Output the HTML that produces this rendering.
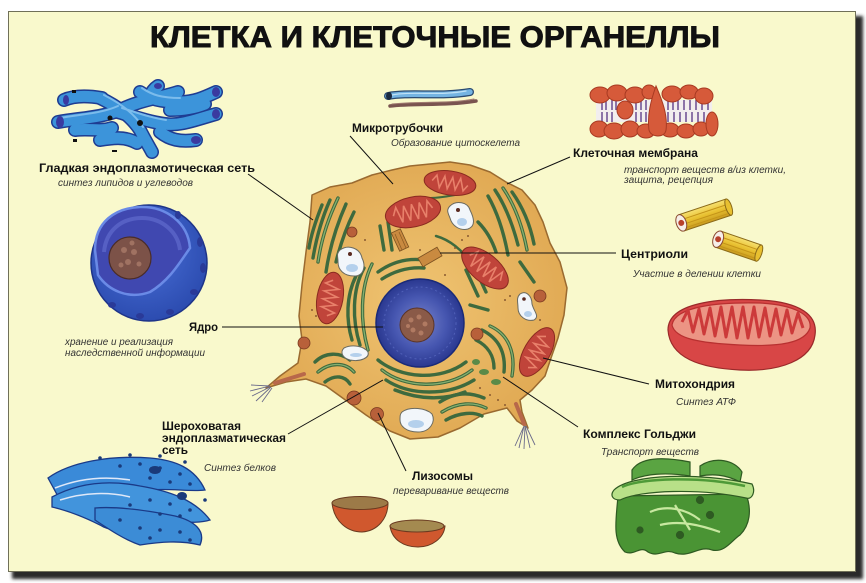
<!DOCTYPE html>
<html><head><meta charset="utf-8">
<style>
html,body{margin:0;padding:0;background:#fff;}
svg{display:block;}
.b{font-family:"Liberation Sans",sans-serif;font-weight:bold;font-size:12px;fill:#111;}
.i{font-family:"Liberation Sans",sans-serif;font-style:italic;font-size:10px;fill:#333;}
</style></head>
<body>
<svg width="866" height="583" viewBox="0 0 866 583" xmlns="http://www.w3.org/2000/svg">
<defs>
<filter id="sh" x="-5%" y="-5%" width="110%" height="110%"><feGaussianBlur stdDeviation="1.6"/></filter>
<radialGradient id="cellg" cx="50%" cy="50%" r="55%"><stop offset="0" stop-color="#efc472"/><stop offset="1" stop-color="#e0a852"/></radialGradient>
<radialGradient id="nucg" cx="50%" cy="50%" r="50%"><stop offset="0" stop-color="#7884cc"/><stop offset="0.6" stop-color="#4656b0"/><stop offset="1" stop-color="#2a3890"/></radialGradient>
<radialGradient id="bign" cx="45%" cy="40%" r="60%"><stop offset="0" stop-color="#4a70d8"/><stop offset="1" stop-color="#2c4cb0"/></radialGradient>
<linearGradient id="yel" x1="0" y1="0" x2="0" y2="1"><stop offset="0" stop-color="#f6e070"/><stop offset="0.5" stop-color="#e8c030"/><stop offset="1" stop-color="#c89a20"/></linearGradient>
</defs>

<!-- frame -->
<rect x="12" y="16" width="851" height="563" fill="#2a2a2a" filter="url(#sh)"/>
<rect x="8.5" y="11.5" width="847" height="560" fill="#f9f9cc" stroke="#707058" stroke-width="1"/>

<!-- title -->
<text x="150" y="47" textLength="570" lengthAdjust="spacingAndGlyphs" font-family="Liberation Sans, sans-serif" font-weight="bold" font-size="30" fill="#111" stroke="#111" stroke-width="0.9">КЛЕТКА И КЛЕТОЧНЫЕ ОРГАНЕЛЛЫ</text>

<!-- smooth ER -->
<g fill="none" stroke-linecap="round">
<g stroke="#1e3c92" stroke-width="14">
<path d="M58,122 C80,118 100,118 120,110 C140,100 160,98 178,92"/>
<path d="M118,112 C135,117 150,122 165,124 C180,126 195,120 216,114"/>
<path d="M100,98 C115,105 130,115 140,130 C145,140 150,148 152,152"/>
<path d="M140,92 C150,99 160,102 180,102 C195,102 205,97 216,92"/>
<path d="M64,100 C75,95 90,96 102,98"/>
<path d="M100,140 C112,138 125,136 137,143"/>
<path d="M160,132 C170,140 180,142 196,140"/>
<path d="M150,96 C152,91 155,88 158,86"/>
<path d="M75,130 C90,128 100,132 112,128"/>
<path d="M170,110 C185,110 195,108 205,104"/>
</g>
<g stroke="#3c94da" stroke-width="11">
<path d="M58,122 C80,118 100,118 120,110 C140,100 160,98 178,92"/>
<path d="M118,112 C135,117 150,122 165,124 C180,126 195,120 216,114"/>
<path d="M100,98 C115,105 130,115 140,130 C145,140 150,148 152,152"/>
<path d="M140,92 C150,99 160,102 180,102 C195,102 205,97 216,92"/>
<path d="M64,100 C75,95 90,96 102,98"/>
<path d="M100,140 C112,138 125,136 137,143"/>
<path d="M160,132 C170,140 180,142 196,140"/>
<path d="M150,96 C152,91 155,88 158,86"/>
<path d="M75,130 C90,128 100,132 112,128"/>
<path d="M170,110 C185,110 195,108 205,104"/>
</g>
<g stroke="#7cbcec" stroke-width="2">
<path d="M60,118 C80,114 100,114 118,106"/>
<path d="M142,88 C152,95 162,98 180,98"/>
<path d="M104,95 C118,102 133,112 143,127"/>
<path d="M122,108 C138,113 152,118 166,120"/>
</g>
</g>
<g fill="#3a3aa0"><ellipse cx="60" cy="122" rx="4" ry="6"/><ellipse cx="216" cy="92" rx="4" ry="5"/><ellipse cx="216" cy="114" rx="4" ry="5"/><ellipse cx="196" cy="140" rx="5" ry="4"/><ellipse cx="158" cy="86" rx="4" ry="3"/><ellipse cx="66" cy="100" rx="3" ry="5"/></g>
<g fill="#111"><rect x="72" y="90" width="4" height="3"/><rect x="73" y="139" width="4" height="3"/><rect x="112" y="150" width="5" height="2"/><circle cx="140" cy="123" r="3"/><circle cx="110" cy="118" r="2.5"/></g>

<!-- big nucleus left -->
<g>
<circle cx="149" cy="263" r="58" fill="url(#bign)" stroke="#1e3488" stroke-width="1.5"/>
<path d="M95,250 C95,222 115,208 140,207 C165,206 188,222 190,248 C180,262 170,280 150,292 C128,300 108,290 98,275 Z" fill="#4048b0" stroke="#6a8ae6" stroke-width="2.5"/>
<path d="M104,252 C106,230 122,218 142,218 C162,218 178,232 180,250" fill="none" stroke="#5660c4" stroke-width="4"/>
<circle cx="130" cy="258" r="21" fill="#7c5248" stroke="#4a2c28" stroke-width="1.2"/>
<g fill="#a07262"><circle cx="124" cy="250" r="3"/><circle cx="134" cy="252" r="3"/><circle cx="128" cy="262" r="3"/><circle cx="139" cy="264" r="2.5"/><circle cx="121" cy="265" r="2.5"/><circle cx="132" cy="243" r="2.5"/></g>
<g fill="#2a3a98"><ellipse cx="200" cy="242" rx="3" ry="5"/><ellipse cx="203" cy="268" rx="3" ry="5"/><ellipse cx="194" cy="292" rx="4" ry="3"/><ellipse cx="170" cy="312" rx="4" ry="3"/><ellipse cx="140" cy="316" rx="4" ry="3"/><ellipse cx="112" cy="305" rx="4" ry="3"/><ellipse cx="178" cy="215" rx="3" ry="4"/></g>
</g>

<!-- rough ER bottom-left -->
<g stroke="#1a3a88" stroke-width="1.3">
<path d="M48,478 C70,462 110,455 150,458 C175,460 195,468 205,490 C190,492 170,488 150,490 C120,492 90,495 60,500 Z" fill="#3a8ad8"/>
<path d="M52,497 C80,482 110,480 140,486 C170,491 195,500 210,520 C195,525 170,520 150,522 C130,526 115,535 100,525 C80,515 65,510 52,507 Z" fill="#4294dc"/>
<path d="M95,508 C120,506 150,511 175,516 C195,521 206,531 200,545 C180,540 160,542 140,545 C125,540 110,530 95,520 Z" fill="#3c8cd6"/>
<path d="M55,488 C80,478 105,476 130,480" fill="none" stroke="#dfe8f8" stroke-width="1.5"/>
<path d="M60,500 C85,492 110,492 130,497" fill="none" stroke="#dfe8f8" stroke-width="1.5"/>
</g>
<g fill="#1a3a7a">
<circle cx="120" cy="466" r="1.8"/><circle cx="140" cy="464" r="1.8"/><circle cx="160" cy="468" r="1.8"/><circle cx="180" cy="474" r="1.8"/><circle cx="150" cy="478" r="1.8"/><circle cx="170" cy="482" r="1.8"/><circle cx="190" cy="484" r="1.8"/>
<circle cx="150" cy="500" r="1.8"/><circle cx="170" cy="504" r="1.8"/><circle cx="190" cy="510" r="1.8"/><circle cx="130" cy="505" r="1.8"/><circle cx="160" cy="514" r="1.8"/><circle cx="180" cy="516" r="1.8"/>
<circle cx="120" cy="520" r="1.8"/><circle cx="140" cy="528" r="1.8"/><circle cx="160" cy="530" r="1.8"/><circle cx="180" cy="532" r="1.8"/><circle cx="190" cy="540" r="1.8"/><circle cx="150" cy="538" r="1.8"/>
<circle cx="100" cy="458" r="1.8"/><circle cx="130" cy="455" r="1.8"/><circle cx="160" cy="456" r="1.8"/><circle cx="185" cy="462" r="1.8"/><circle cx="205" cy="500" r="1.8"/>
<ellipse cx="155" cy="470" rx="6" ry="4"/><ellipse cx="182" cy="496" rx="5" ry="4"/>
</g>

<!-- microtubule -->
<g fill="none" stroke-linecap="round">
<path d="M388,96 C410,92 440,97 470,92" stroke="#2a4a70" stroke-width="8"/>
<path d="M388,96 C410,92 440,97 470,92" stroke="#74b4e2" stroke-width="5.5"/>
<path d="M392,95 C412,91 440,96 466,91" stroke="#c0e2f6" stroke-width="1.2"/>
<path d="M390,106 C415,103 445,106 476,101" stroke="#7a5450" stroke-width="3.5"/>
<path d="M392,104 C418,101 448,104 474,99" stroke="#a07a70" stroke-width="1"/>
</g>
<ellipse cx="389" cy="96" rx="3" ry="4" fill="#1a2a40"/>

<!-- membrane top right -->
<g>
<rect x="596" y="100" width="116" height="22" fill="#f2eeee"/>
<g stroke="#6a4c90" stroke-width="1.5">
<path d="M602,100 v10 M606,100 v10 M612,100 v10 M616,100 v10 M636,100 v10 M641,100 v10 M646,100 v10 M668,100 v10 M673,100 v10 M678,100 v10 M684,100 v10 M690,100 v10 M696,100 v10 M702,100 v10 M708,100 v10"/>
<path d="M602,112 v10 M607,112 v10 M612,112 v10 M636,112 v10 M641,112 v10 M646,112 v10 M668,112 v10 M674,112 v10 M680,112 v10 M686,112 v10 M692,112 v10 M698,112 v10 M704,112 v10"/>
</g>
<g fill="#d65a3a" stroke="#a83a22" stroke-width="1">
<ellipse cx="600" cy="95" rx="10" ry="8"/><ellipse cx="617" cy="93" rx="10" ry="8"/><ellipse cx="635" cy="95" rx="10" ry="8"/><ellipse cx="649" cy="92" rx="7" ry="7"/><ellipse cx="672" cy="94" rx="10" ry="8"/><ellipse cx="689" cy="92" rx="9" ry="7"/><ellipse cx="704" cy="96" rx="9" ry="8"/>
<ellipse cx="599" cy="129" rx="9" ry="8"/><ellipse cx="614" cy="131" rx="10" ry="8"/><ellipse cx="630" cy="129" rx="9" ry="8"/><ellipse cx="646" cy="131" rx="9" ry="7"/><ellipse cx="670" cy="130" rx="9" ry="7"/><ellipse cx="686" cy="131" rx="9" ry="7"/><ellipse cx="701" cy="129" rx="8" ry="7"/><ellipse cx="712" cy="124" rx="6" ry="12"/>
<ellipse cx="625" cy="110" rx="8" ry="9"/>
<path d="M656,86 C651,100 647,115 649,130 C651,138 665,138 666,130 C668,115 662,100 656,86 Z"/>
</g>
</g>

<!-- centrioles right -->
<g transform="translate(705,215) rotate(-18.4)">
<rect x="-25" y="-8.5" width="50" height="17" fill="url(#yel)" stroke="#8a6a18" stroke-width="1"/>
<path d="M-25,-3 H25 M-25,2 H25 M-25,6 H25" stroke="#c49418" stroke-width="1"/>
<ellipse cx="-25" cy="0" rx="5" ry="8.5" fill="#f6eee8" stroke="#8a4a30"/>
<circle cx="-25" cy="0" r="3" fill="#b8402a"/>
<ellipse cx="25" cy="0" rx="3" ry="8.5" fill="#e8c030" stroke="#8a6a18"/>
</g>
<g transform="translate(738,246) rotate(18.9)">
<rect x="-21" y="-8.5" width="43" height="17" fill="url(#yel)" stroke="#8a6a18" stroke-width="1"/>
<path d="M-21,-3 H22 M-21,2 H22 M-21,6 H22" stroke="#c49418" stroke-width="1"/>
<ellipse cx="-21" cy="0" rx="5" ry="8.5" fill="#f6eee8" stroke="#8a4a30"/>
<circle cx="-21" cy="0" r="3" fill="#b8402a"/>
<ellipse cx="22" cy="0" rx="3" ry="8.5" fill="#e8c030" stroke="#8a6a18"/>
</g>

<!-- big mitochondrion right -->
<g>
<path d="M668,330 C668,302 720,298 760,300 C800,302 818,315 815,335 C812,360 780,372 740,370 C700,368 670,358 668,330 Z" fill="#d84646" stroke="#9a2a2a" stroke-width="1.2"/>
<path d="M672,325 C675,306 720,302 760,303 C795,305 812,315 810,328 C805,343 780,347 740,345 C700,343 675,339 672,325 Z" fill="#ec9484" stroke="#b83030" stroke-width="1.2"/>
<path d="M682,322 L688,310 L693,332 L699,309 L704,334 L710,308 L715,336 L721,307 L726,337 L732,307 L737,338 L743,307 L748,338 L754,307 L759,337 L765,308 L770,336 L776,309 L781,335 L787,310 L792,333 L798,313 L803,328" fill="none" stroke="#cc3a3a" stroke-width="3" stroke-linejoin="round"/>
</g>

<!-- golgi bottom right -->
<g stroke="#2e5a22" stroke-width="1.2">
<path d="M618,496 C616,520 612,540 625,552 C635,556 640,545 648,552 C658,558 665,548 675,553 C690,558 700,545 712,550 C725,553 732,540 740,535 C750,525 752,510 746,494 Z" fill="#4a9434"/>
<path d="M632,470 C640,458 660,456 690,462 L690,476 C665,472 645,474 632,480 Z" fill="#5aa442"/>
<path d="M700,466 C715,456 735,460 742,472 L740,482 C725,474 712,474 700,476 Z" fill="#5aa442"/>
<path d="M614,490 C630,474 700,472 752,484 C756,492 752,500 746,498 C700,488 640,490 620,500 C612,500 610,495 614,490 Z" fill="#b8e088"/>
<path d="M622,487 C640,478 700,476 745,486" fill="none" stroke="#4e9a38" stroke-width="2.5"/>
<path d="M650,512 C665,505 685,508 700,520 M675,505 L690,530 M660,525 C680,520 700,525 720,532" fill="none" stroke="#c8e8a0" stroke-width="2.2"/>
<circle cx="700" cy="500" r="3.5" fill="#2e5a22"/><circle cx="710" cy="515" r="3.5" fill="#2e5a22"/><circle cx="680" cy="535" r="3.5" fill="#2e5a22"/><circle cx="640" cy="530" r="3" fill="#2e5a22"/>
</g>

<!-- lysosome bowls -->
<g stroke="#6a3a20" stroke-width="1">
<path d="M332,503 C334,522 348,532 362,532 C378,531 388,518 388,503 Z" fill="#d0582e"/>
<ellipse cx="360" cy="503" rx="28" ry="6.5" fill="#9c7a48"/>
<path d="M390,526 C392,540 404,547 418,547 C432,547 444,538 445,526 Z" fill="#d0582e"/>
<ellipse cx="417" cy="526" rx="27" ry="6" fill="#a48a50"/>
</g>

<!-- CELL -->
<path d="M312,195 L330,187 352,183 372,175 392,170 410,166 430,164 450,162 470,165 490,172 506,182 522,190 535,205 543,222 550,243 560,262 567,288 564,315 558,338 551,358 545,376 532,390 520,400 522,412 528,428 517,421 507,408 484,414 460,428 438,437 410,439 390,431 366,415 344,399 326,386 306,379 286,382 266,388 280,376 298,363 302,340 299,316 302,285 306,252 310,222 Z" fill="url(#cellg)" stroke="#9a6a30" stroke-width="1.5" stroke-linejoin="round"/>
<path d="M275,383 L304,374" stroke="#b8684a" stroke-width="4" stroke-linecap="round"/>
<path d="M516,404 L524,424" stroke="#b8684a" stroke-width="4" stroke-linecap="round"/>
<g stroke="#6a6a8a" stroke-width="0.9">
<path d="M270,386 L251,385 M270,386 L250,391 M270,387 L252,396 M271,387 L256,401 M272,388 L262,402"/>
<path d="M524,426 L515,446 M524,426 L519,448 M525,426 L524,449 M525,426 L530,448 M526,426 L535,445"/>
</g>

<!-- ER strands -->
<g fill="none" stroke-linecap="round">
<g stroke="#3e6a3e" stroke-width="3.4">
<path d="M338,198 C330,215 322,235 318,262"/><path d="M346,204 C338,222 330,245 326,272"/><path d="M330,200 C322,218 316,240 313,258"/><path d="M354,212 C346,228 340,246 336,262"/><path d="M322,205 C316,220 311,235 309,248"/>
<path d="M495,190 C505,205 512,222 518,245"/><path d="M503,188 C514,204 522,224 527,250"/><path d="M488,196 C496,210 503,228 508,255"/><path d="M478,222 C486,230 492,240 496,252"/><path d="M512,192 C522,206 530,224 534,244"/>
<path d="M364,268 C352,290 352,320 360,345"/><path d="M372,264 C360,288 360,322 368,350"/><path d="M356,276 C346,296 346,320 352,340"/>
<path d="M378,272 C392,262 408,258 424,260"/><path d="M382,279 C396,270 410,267 424,268"/>
<path d="M378,360 C400,378 440,382 466,362"/><path d="M382,370 C404,388 446,390 472,370"/><path d="M386,380 C410,396 448,396 474,380"/><path d="M395,390 C420,400 445,400 465,392"/>
<path d="M315,362 C325,352 340,352 350,360"/><path d="M318,372 C330,362 345,362 354,372"/><path d="M325,382 C335,374 345,376 350,384"/>
<path d="M440,402 C455,392 470,392 484,398"/><path d="M442,412 C458,402 474,402 486,408"/><path d="M446,420 C460,412 474,412 482,416"/>
<path d="M482,330 C498,338 506,352 504,372"/><path d="M490,326 C508,334 516,352 512,376"/><path d="M476,340 C488,346 494,356 494,368"/>
<path d="M466,270 L478,296"/><path d="M474,266 L486,292"/><path d="M470,305 L488,310"/><path d="M388,222 L392,250"/><path d="M380,226 L384,250"/>
<path d="M520,262 L534,282"/><path d="M430,198 C440,198 450,196 460,194" stroke-width="2"/>
<path d="M436,236 C450,240 462,250 470,262" stroke-width="2.5"/>
</g>
<g stroke="#86b070" stroke-width="1.3">
<path d="M338,198 C330,215 322,235 318,262"/><path d="M503,188 C514,204 522,224 527,250"/><path d="M372,264 C360,288 360,322 368,350"/><path d="M382,370 C404,388 446,390 472,370"/><path d="M490,326 C508,334 516,352 512,376"/><path d="M318,372 C330,362 345,362 354,372"/><path d="M442,412 C458,402 474,402 486,408"/>
</g>
</g>
<g fill="#5a8a48"><ellipse cx="484" cy="372" rx="5" ry="3"/><ellipse cx="496" cy="382" rx="5" ry="3"/><ellipse cx="476" cy="362" rx="4" ry="3"/></g>
<g fill="#8a5a30"><circle cx="462" cy="240" r="1"/><circle cx="468" cy="236" r="1"/><circle cx="455" cy="248" r="1"/><circle cx="505" cy="300" r="1"/><circle cx="510" cy="296" r="1"/><circle cx="312" cy="310" r="1"/><circle cx="316" cy="316" r="1"/><circle cx="480" cy="388" r="1"/><circle cx="490" cy="395" r="1"/><circle cx="498" cy="400" r="1"/><circle cx="505" cy="405" r="1"/><circle cx="420" cy="250" r="1"/><circle cx="445" cy="275" r="1"/><circle cx="365" cy="240" r="1"/><circle cx="540" cy="320" r="1"/></g>

<!-- mitochondria in cell -->
<g stroke="#8a2a20" stroke-width="1">
<g transform="translate(450,183) rotate(8)"><ellipse rx="26" ry="12" fill="#c0443a"/><path d="M-18,0 L-14,-6 -10,6 -6,-6 -2,6 2,-6 6,6 10,-6 14,6 18,0" fill="none" stroke="#e8806a" stroke-width="1.6"/></g>
<g transform="translate(413,212) rotate(-12)"><ellipse rx="28" ry="15" fill="#c0443a"/><path d="M-20,0 L-16,-8 -12,8 -8,-8 -4,8 0,-8 4,8 8,-8 12,8 16,-8 20,0" fill="none" stroke="#e8806a" stroke-width="1.6"/></g>
<g transform="translate(485,268) rotate(40)"><ellipse rx="28" ry="14" fill="#c0443a"/><path d="M-20,0 L-16,-8 -12,8 -8,-8 -4,8 0,-8 4,8 8,-8 12,8 16,-8 20,0" fill="none" stroke="#e8806a" stroke-width="1.6"/></g>
<g transform="translate(330,298) rotate(10)"><ellipse rx="13" ry="26" fill="#c0443a"/><path d="M0,-18 L-7,-14 7,-10 -7,-6 7,-2 -7,2 7,6 -7,10 7,14 0,18" fill="none" stroke="#e8806a" stroke-width="1.6"/></g>
<g transform="translate(537,352) rotate(30)"><ellipse rx="13" ry="27" fill="#c0443a"/><path d="M0,-18 L-7,-14 7,-10 -7,-6 7,-2 -7,2 7,6 -7,10 7,14 0,18" fill="none" stroke="#e8806a" stroke-width="1.6"/></g>
</g>

<!-- vacuoles -->
<g fill="#f2f6fa" stroke="#6a6a60" stroke-width="1">
<path d="M450,206 C456,200 468,202 470,210 C474,218 476,226 468,229 C460,231 452,226 450,218 C448,213 446,210 450,206 Z"/>
<path d="M340,250 C348,244 360,248 362,258 C366,266 364,276 354,276 C344,276 338,270 338,262 C338,256 336,254 340,250 Z"/>
<path d="M520,294 C526,290 532,296 532,304 C534,312 540,316 534,320 C526,322 518,316 518,308 C518,302 516,298 520,294 Z"/>
<path d="M344,348 C352,344 364,346 368,352 C370,358 360,362 350,360 C342,358 340,352 344,348 Z"/>
<path d="M402,412 C410,406 426,408 432,414 C436,422 430,432 418,432 C406,432 400,426 400,420 C400,416 400,414 402,412 Z"/>
</g>
<g fill="#b4d0ec"><ellipse cx="462" cy="222" rx="5" ry="4"/><ellipse cx="352" cy="268" rx="6" ry="4"/><ellipse cx="528" cy="314" rx="4" ry="3"/><ellipse cx="416" cy="424" rx="8" ry="4"/><ellipse cx="356" cy="355" rx="6" ry="2"/></g>
<g fill="#5a2a20"><circle cx="458" cy="210" r="2"/><circle cx="350" cy="254" r="2"/><circle cx="524" cy="299" r="1.8"/></g>

<!-- small lysosomes -->
<g fill="#b8603a" stroke="#7a3a20" stroke-width="0.8">
<circle cx="352" cy="232" r="5"/><circle cx="304" cy="343" r="6"/><circle cx="354" cy="398" r="7"/><circle cx="377" cy="414" r="6.5"/><circle cx="477" cy="334" r="6"/><circle cx="540" cy="296" r="6"/>
</g>

<!-- centrioles in cell -->
<g stroke="#7a5020" stroke-width="0.8" fill="#c98a40">
<rect x="-5" y="-10" width="10" height="20" transform="translate(400,240) rotate(-25)"/>
<rect x="-11" y="-5" width="22" height="10" transform="translate(430,257) rotate(-30)"/>
</g>
<path d="M395,234 L402,250 M399,232 L406,248" stroke="#8a5a20" stroke-width="0.7"/>

<!-- nucleus -->
<circle cx="420" cy="323" r="44" fill="url(#nucg)" stroke="#1a2a78" stroke-width="1.5"/>
<circle cx="420" cy="323" r="36" fill="none" stroke="#5060b8" stroke-width="1" stroke-dasharray="2 3"/>
<circle cx="417" cy="325" r="17" fill="#8a5a48" stroke="#5a3428" stroke-width="1"/>
<g fill="#b07a62"><circle cx="411" cy="320" r="2.5"/><circle cx="419" cy="317" r="2.5"/><circle cx="425" cy="324" r="2.5"/><circle cx="413" cy="330" r="2.5"/><circle cx="421" cy="333" r="2.5"/><circle cx="408" cy="326" r="2"/></g>

<!-- connectors -->
<g stroke="#111" stroke-width="1" fill="none">
<path d="M350,136 L393,184"/>
<path d="M570,157 L507,184"/>
<path d="M440,253 L616,253"/>
<path d="M543,358 L649,384"/>
<path d="M503,377 L578,427"/>
<path d="M378,413 L406,471"/>
<path d="M248,174 L313,220"/>
<path d="M222,327 L383,327"/>
<path d="M288,434 L383,380"/>
</g>

<!-- labels -->
<text class="b" x="352" y="132" textLength="91" lengthAdjust="spacingAndGlyphs">Микротрубочки</text>
<text class="i" x="391" y="146" textLength="129" lengthAdjust="spacingAndGlyphs">Образование цитоскелета</text>
<text class="b" x="573" y="157" textLength="125" lengthAdjust="spacingAndGlyphs">Клеточная мембрана</text>
<text class="i" x="624" y="173" textLength="162" lengthAdjust="spacingAndGlyphs">транспорт веществ в/из клетки,</text>
<text class="i" x="624" y="183" textLength="89" lengthAdjust="spacingAndGlyphs">защита, рецепция</text>
<text class="b" x="621" y="258" textLength="67" lengthAdjust="spacingAndGlyphs">Центриоли</text>
<text class="i" x="633" y="277" textLength="128" lengthAdjust="spacingAndGlyphs">Участие в делении клетки</text>
<text class="b" x="655" y="388" textLength="80" lengthAdjust="spacingAndGlyphs">Митохондрия</text>
<text class="i" x="676" y="405" textLength="60" lengthAdjust="spacingAndGlyphs">Синтез АТФ</text>
<text class="b" x="583" y="438" textLength="113" lengthAdjust="spacingAndGlyphs">Комплекс Гольджи</text>
<text class="i" x="601" y="455" textLength="98" lengthAdjust="spacingAndGlyphs">Транспорт веществ</text>
<text class="b" x="412" y="480" textLength="61" lengthAdjust="spacingAndGlyphs">Лизосомы</text>
<text class="i" x="393" y="494" textLength="116" lengthAdjust="spacingAndGlyphs">переваривание веществ</text>
<text class="b" x="39" y="172" textLength="216" lengthAdjust="spacingAndGlyphs">Гладкая эндоплазмотическая сеть</text>
<text class="i" x="58" y="186" textLength="135" lengthAdjust="spacingAndGlyphs">синтез липидов и углеводов</text>
<text class="b" x="189" y="331" textLength="29" lengthAdjust="spacingAndGlyphs">Ядро</text>
<text class="i" x="65" y="345" textLength="108" lengthAdjust="spacingAndGlyphs">хранение и реализация</text>
<text class="i" x="65" y="356" textLength="140" lengthAdjust="spacingAndGlyphs">наследственной информации</text>
<text class="b" x="162" y="430" textLength="79" lengthAdjust="spacingAndGlyphs">Шероховатая</text>
<text class="b" x="162" y="442" textLength="124" lengthAdjust="spacingAndGlyphs">эндоплазматическая</text>
<text class="b" x="162" y="454" textLength="26" lengthAdjust="spacingAndGlyphs">сеть</text>
<text class="i" x="204" y="471" textLength="72" lengthAdjust="spacingAndGlyphs">Синтез белков</text>
</svg>
</body></html>
